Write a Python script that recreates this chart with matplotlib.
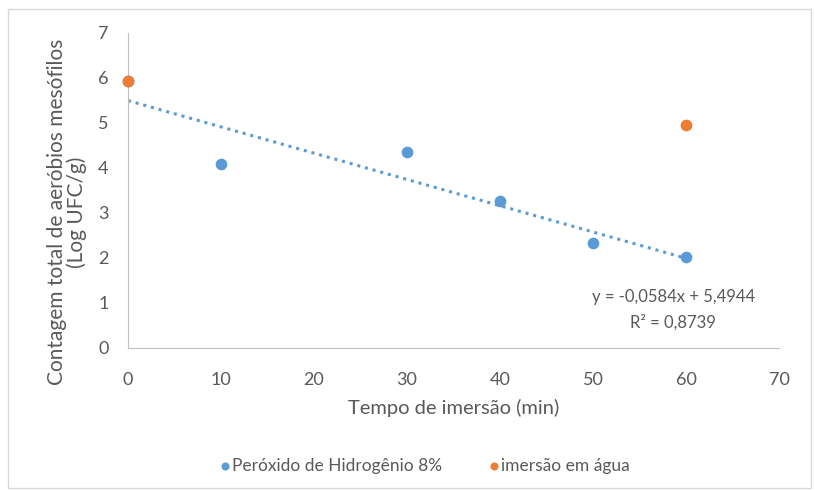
import numpy as np
import matplotlib.pyplot as plt
from matplotlib.patches import Rectangle

plt.rcParams['font.family'] = ['Lato', 'DejaVu Sans']

# data
x_peroxido = [0, 10, 30, 40, 50, 60]
y_peroxido = [5.93, 4.09, 4.36, 3.27, 2.33, 2.02]
x_agua = [0, 60]
y_agua = [5.92, 4.96]
slope, intercept = -0.0584, 5.4944
r2 = 0.8739

grey = '#595959'
blue = '#5B9BD5'
orange = '#ED7D31'

fig = plt.figure(figsize=(8.15, 4.9), dpi=100)
ax = fig.add_axes([0.157, 0.29, 0.799, 0.643])

fig.patches.append(Rectangle((0.01, 0.004), 0.985, 0.978, transform=fig.transFigure,
                             fill=False, edgecolor='#D9D9D9', linewidth=1))

ax.scatter(x_peroxido, y_peroxido, s=55, color=blue, zorder=3,
           label='Peróxido de Hidrogênio 8%', clip_on=False)
ax.scatter(x_agua, y_agua, s=55, color=orange, zorder=4,
           label='imersão em água', clip_on=False)

# linear trendline of the peroxide series
xt = np.array([min(x_peroxido), max(x_peroxido)])
ax.plot(xt, slope * xt + intercept, linestyle=(0, (1, 1.6)), color=blue,
        linewidth=2.2, zorder=2)

ax.text(58.6, 1.13, 'y = -0,0584x + 5,4944', ha='center', va='center',
        color=grey, fontsize=12)
ax.text(58.6, 0.56, 'R² = 0,8739', ha='center', va='center',
        color=grey, fontsize=12)

ax.set_xlim(0, 70)
ax.set_ylim(0, 7)
ax.set_xticks(range(0, 71, 10))
ax.set_yticks(range(0, 8))
ax.tick_params(length=0, colors=grey, labelsize=13)
ax.tick_params(axis='x', pad=17)
ax.tick_params(axis='y', pad=14)
for s in ['top', 'right']:
    ax.spines[s].set_visible(False)
for s in ['left', 'bottom']:
    ax.spines[s].set_color('#BFBFBF')

ax.set_xlabel('Tempo de imersão (min)', color=grey, fontsize=14.5, labelpad=8)
fig.text(0.082, 0.567, 'Contagem total de aeróbios mesófilos\n(Log UFC/g)',
         rotation=90, ha='center', va='center', color=grey, fontsize=15,
         linespacing=1.0)

leg = fig.legend(loc='center', bbox_to_anchor=(0.518, 0.05), ncol=2, frameon=False,
                 fontsize=12.5, handletextpad=-0.2, columnspacing=2.4,
                 handlelength=1.2, markerscale=0.65)
for t in leg.get_texts():
    t.set_color(grey)

plt.savefig('out.png', dpi=100)
